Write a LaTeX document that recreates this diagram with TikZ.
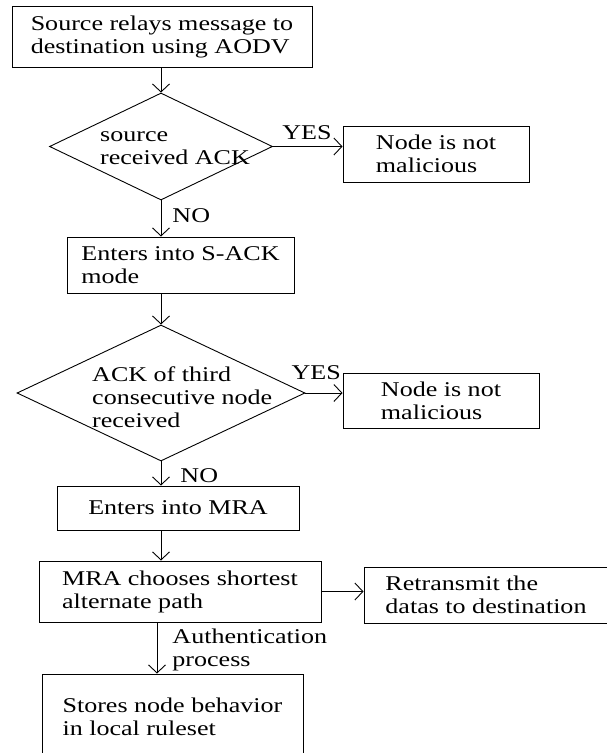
\documentclass[tikz,border=0pt]{standalone}
\usepackage{fontspec}
\setmainfont[FakeStretch=1.24]{Liberation Serif}
\usetikzlibrary{shapes.geometric,arrows.meta}
\begin{document}
\begin{tikzpicture}[x=1pt,y=-1pt,
  every node/.style={font=\fontsize{21}{23}\selectfont},
  box/.style={draw,line width=1pt,rectangle,inner sep=0pt,align=left},
  dia/.style={draw,line width=0.9pt,diamond,inner sep=0pt},
  txt/.style={inner sep=0pt,align=left},
  lbl/.style={inner sep=0pt},
  arr/.style={line width=0.9pt,-{Straight Barb[length=8pt,width=17pt]}}]
\useasboundingbox (0,0) rectangle (606,753);
\fill[white] (0,0) rectangle (606,753);

\node[box,minimum width=300pt,minimum height=61pt] (b1) at (162,36.5)
  {Source relays message to\\destination using AODV};
\node[dia,minimum width=223pt,minimum height=107pt] (d1) at (161,146.5) {};
\node[txt,anchor=west] (d1t) at (100,148) {source\\received ACK};
\node[box,minimum width=186pt,minimum height=56pt] (n1) at (436,154)
  {Node is not\\malicious};
\node[box,minimum width=227pt,minimum height=56pt] (b2) at (180.5,265)
  {Enters into S-ACK\\mode};
\node[dia,minimum width=288pt,minimum height=136pt] (d2) at (161,393) {};
\node[txt,anchor=west] (d2t) at (92,397) {ACK of third\\consecutive node\\received};
\node[box,minimum width=196pt,minimum height=55pt] (n2) at (441,400.5)
  {Node is not\\malicious};
\node[box,minimum width=242pt,minimum height=44pt] (b3) at (178,508)
  {Enters into MRA};
\node[box,minimum width=282pt,minimum height=61pt] (b4) at (180,591.5)
  {MRA chooses shortest\\alternate path};
\node[box,minimum width=244pt,minimum height=56pt] (b5) at (486,595)
  {Retransmit the\\datas to destination};
\node[box,minimum width=261pt,minimum height=86pt] (b6) at (172.5,717)
  {Stores node behavior\\in local ruleset};

\draw[arr] (b1.south -| d1.north) -- (d1.north);
\draw[arr] (d1.east) -- (d1.east -| n1.west)
  node[lbl,pos=0.49,anchor=south,yshift=6pt] (y1) {YES};
\draw[arr] (d1.south) -- (d1.south |- b2.north)
  node[lbl,pos=0.41,anchor=west,xshift=11pt] (no1) {NO};
\draw[arr] (b2.south -| d2.north) -- (d2.north);
\draw[arr] (d2.east) -- (d2.east -| n2.west)
  node[lbl,pos=0.29,anchor=south,yshift=13pt] (y2) {YES};
\draw[arr] (d2.south) -- (d2.south |- b3.north)
  node[lbl,pos=0.6,anchor=west,xshift=19pt] (no2) {NO};
\draw[arr] (b3.south -| d2.south) -- (b4.north -| d2.south);
\draw[arr] (b4.east) -- (b4.east -| b5.west);
\draw[arr] ([xshift=-23pt]b4.south) -- ([xshift=-23pt]b4.south |- b6.north)
  node[lbl,pos=0.54,anchor=west,xshift=15pt,align=left] (auth) {Authentication\\process};
\end{tikzpicture}
\end{document}
